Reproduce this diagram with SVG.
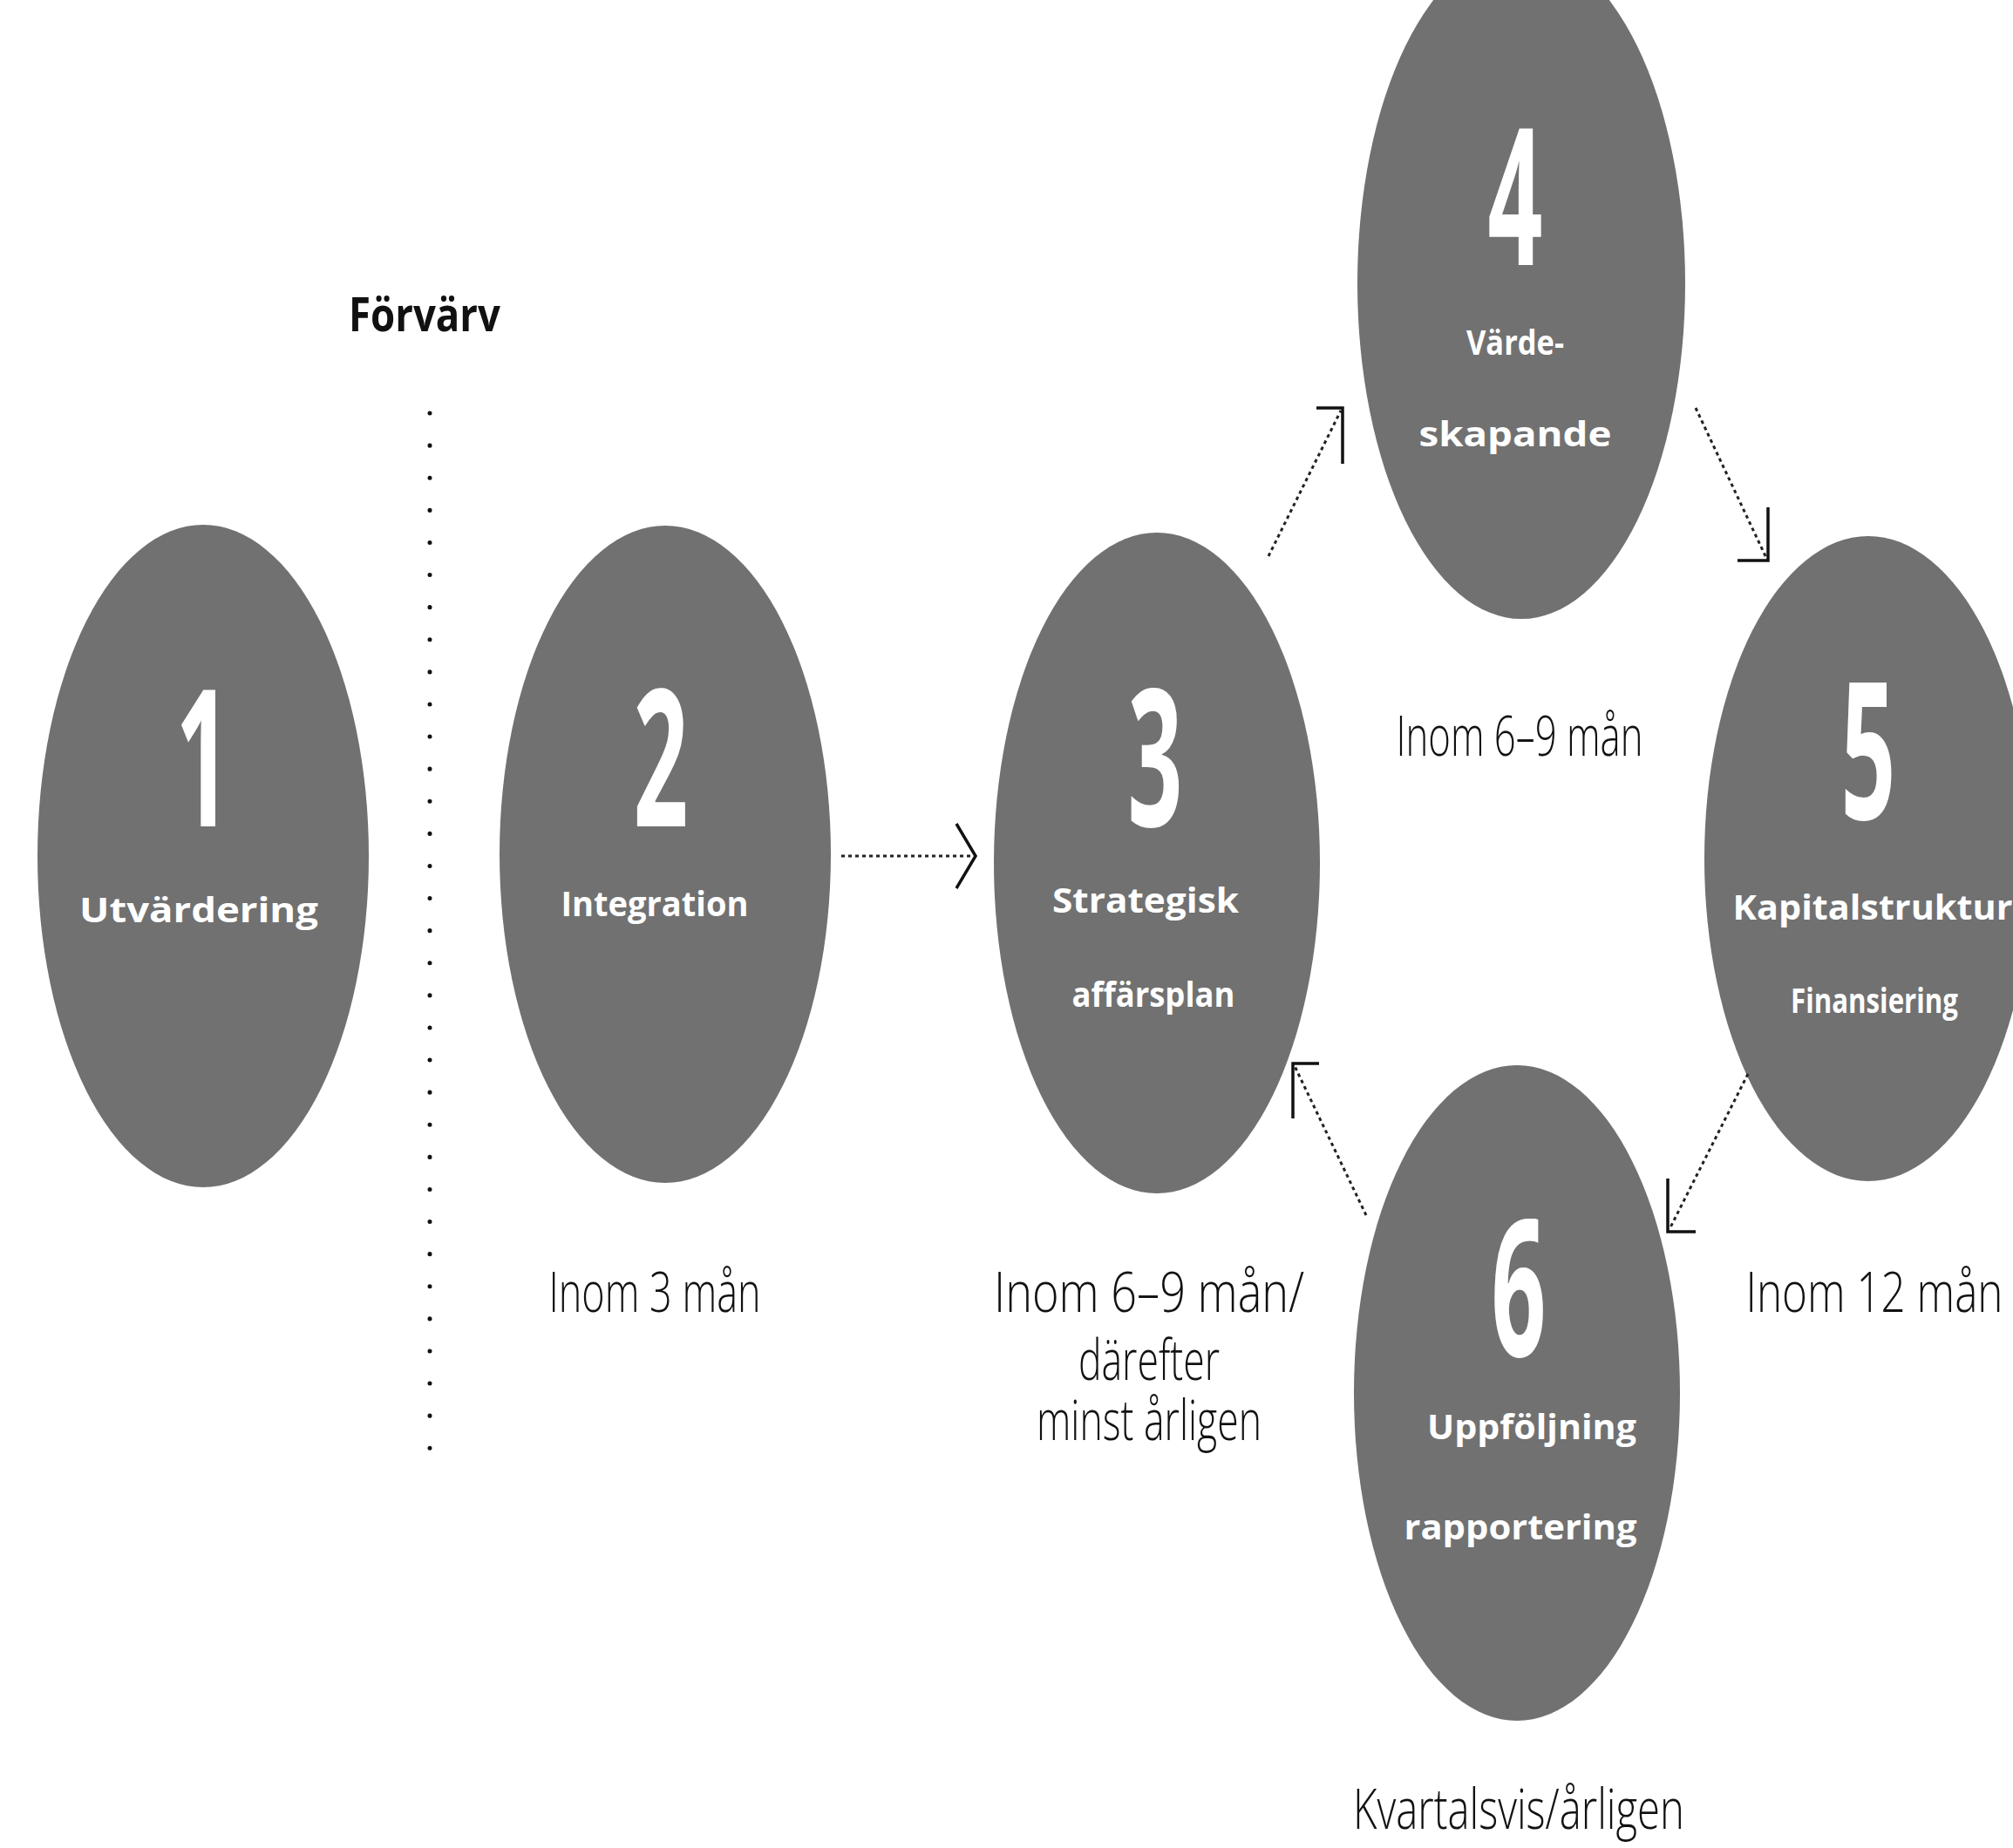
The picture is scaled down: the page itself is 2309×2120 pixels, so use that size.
<svg xmlns="http://www.w3.org/2000/svg" width="2309" height="2120" viewBox="0 0 2309 2120">
<style>
.node{fill:#717171}
.digit{font-family:"Open Sans","Liberation Sans",sans-serif;font-weight:700;font-size:110px;fill:#fff;text-anchor:middle}
.lbl{font-family:"Open Sans","Liberation Sans",sans-serif;font-weight:700;font-size:20px;fill:#fff;text-anchor:middle}
.cap{font-family:"Open Sans","Liberation Sans",sans-serif;font-weight:300;font-size:32px;fill:#111;text-anchor:middle}
.head{font-family:"Open Sans","Liberation Sans",sans-serif;font-weight:700;font-size:27px;fill:#111;text-anchor:middle}
.ln{fill:none;stroke:#222;stroke-width:3;stroke-dasharray:4 4}
.ah{fill:none;stroke:#111;stroke-width:3.5}
</style>
<rect width="2309" height="2120" fill="#fff"/>
<g id="forvarv">
<g transform="scale(1 2)"><text class="head" x="487" y="190" textLength="174" lengthAdjust="spacingAndGlyphs">Förvärv</text></g>
<line x1="493" y1="474" x2="493" y2="1664" stroke="#111" stroke-width="5" stroke-linecap="round" stroke-dasharray="0.1 37"/>
</g>
<g id="n1">
<ellipse class="node" cx="233" cy="982" rx="190" ry="380"/>
<g transform="scale(1 2)"><text class="digit" x="233" y="474">1</text><text class="lbl" x="228" y="529" textLength="274" lengthAdjust="spacingAndGlyphs">Utvärdering</text></g>
</g>
<g id="n2">
<ellipse class="node" cx="763" cy="980" rx="190" ry="377"/>
<g transform="scale(1 2)"><text class="digit" x="758" y="474">2</text><text class="lbl" x="751" y="525.5" textLength="215" lengthAdjust="spacingAndGlyphs">Integration</text>
<text class="cap" x="751" y="752.5" textLength="243" lengthAdjust="spacingAndGlyphs">Inom 3 mån</text></g>
</g>
<g id="n3">
<ellipse class="node" cx="1327" cy="990" rx="187" ry="379"/>
<g transform="scale(1 2)"><text class="digit" x="1325" y="474">3</text><text class="lbl" x="1314" y="523.5" textLength="214" lengthAdjust="spacingAndGlyphs">Strategisk</text><text class="lbl" x="1323" y="577.5" textLength="187" lengthAdjust="spacingAndGlyphs">affärsplan</text>
<text class="cap" x="1318" y="752.5" textLength="356" lengthAdjust="spacingAndGlyphs">Inom 6–9 mån/</text>
<text class="cap" x="1318" y="791.5" textLength="162" lengthAdjust="spacingAndGlyphs">därefter</text>
<text class="cap" x="1318" y="826" textLength="258" lengthAdjust="spacingAndGlyphs">minst årligen</text></g>
</g>
<g id="n4">
<ellipse class="node" cx="1745" cy="325" rx="188" ry="385"/>
<g transform="scale(1 2)"><text class="digit" x="1738" y="152">4</text><text class="lbl" x="1738" y="203.5" textLength="112" lengthAdjust="spacingAndGlyphs">Värde-</text><text class="lbl" x="1738" y="256" textLength="221" lengthAdjust="spacingAndGlyphs">skapande</text>
<text class="cap" x="1743" y="433.5" textLength="283" lengthAdjust="spacingAndGlyphs">Inom 6–9 mån</text></g>
</g>
<g id="n5">
<ellipse class="node" cx="2143" cy="985" rx="188" ry="370"/>
<g transform="scale(1 2)"><text class="digit" x="2143" y="470">5</text><text class="lbl" x="2148" y="527.5" textLength="321" lengthAdjust="spacingAndGlyphs">Kapitalstruktur</text><text class="lbl" x="2150" y="581" textLength="192" lengthAdjust="spacingAndGlyphs">Finansiering</text>
<text class="cap" x="2150" y="752.5" textLength="295" lengthAdjust="spacingAndGlyphs">Inom 12 mån</text></g>
</g>
<g id="n6">
<ellipse class="node" cx="1740" cy="1598" rx="187" ry="376"/>
<g transform="scale(1 2)"><text class="digit" x="1742" y="778">6</text><text class="lbl" x="1757" y="825.5" textLength="240" lengthAdjust="spacingAndGlyphs">Uppföljning</text><text class="lbl" x="1744" y="883" textLength="267" lengthAdjust="spacingAndGlyphs">rapportering</text>
<text class="cap" x="1742" y="1049" textLength="380" lengthAdjust="spacingAndGlyphs">Kvartalsvis/årligen</text></g>
</g>
<g id="connectors">
<line class="ln" x1="965" y1="982" x2="1117" y2="982"/>
<path class="ah" d="M1097 945 L1119 982 L1097 1019"/>
<line class="ln" x1="1455" y1="638" x2="1538" y2="471"/>
<path class="ah" d="M1510 468 L1540 468 L1540 532"/>
<line class="ln" x1="1945" y1="468" x2="2026" y2="640"/>
<path class="ah" d="M2028 582 L2028 643 L1993 643"/>
<line class="ln" x1="2005" y1="1232" x2="1915" y2="1410"/>
<path class="ah" d="M1913 1352 L1913 1413 L1945 1413"/>
<line class="ln" x1="1567" y1="1394" x2="1485" y2="1223"/>
<path class="ah" d="M1513 1220 L1483 1220 L1483 1283"/>
</g>
</svg>
